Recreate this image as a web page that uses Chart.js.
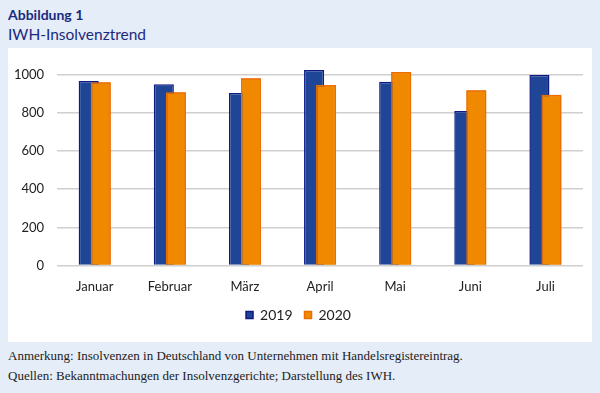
<!DOCTYPE html>
<html>
<head>
<meta charset="utf-8">
<script src="https://cdn.jsdelivr.net/npm/chart.js@4"></script>
<style>
  html, body { margin: 0; padding: 0; }
  body { width: 600px; height: 393px; background: #e5edf8; position: relative; overflow: hidden; font-family: Lato, sans-serif; }
  .kicker { position: absolute; left: 8px; top: 6px; font-size: 14px; font-weight: bold; color: #1b2a7d; }
  .title { position: absolute; left: 8px; top: 25px; font-size: 15.5px; color: #1b2a7d; }
  .panel { position: absolute; left: 8px; top: 48px; width: 584px; height: 294px; background: #fff; }
  .note { position: absolute; left: 8px; font-family: "Liberation Serif", serif; font-size: 13px; color: #222; }
</style>
</head>
<body>
<div class="kicker">Abbildung 1</div>
<div class="title">IWH-Insolvenztrend</div>
<div class="panel"><canvas id="chart" width="584" height="294"></canvas></div>
<div class="note" style="top:348px">Anmerkung: Insolvenzen in Deutschland von Unternehmen mit Handelsregistereintrag.</div>
<div class="note" style="top:368px">Quellen: Bekanntmachungen der Insolvenzgerichte; Darstellung des IWH.</div>
<script>
const months = ["Januar", "Februar", "März", "April", "Mai", "Juni", "Juli"];
const values2019 = [969, 951, 905, 1026, 964, 811, 1000];
const values2020 = [962, 910, 983, 948, 1016, 920, 896];
const yTicks = [0, 200, 400, 600, 800, 1000];

// orange bars sit on top of the blue ones
const orangeOnTop = {
  id: "orangeOnTop",
  afterDatasetsDraw(chart) {
    chart.getDatasetMeta(1).controller.draw();
  }
};

new Chart(document.getElementById("chart"), {
  type: "bar",
  data: {
    labels: months,
    datasets: [
      {
        label: "2019",
        data: values2019,
        backgroundColor: "#1f4597",
        borderColor: "#0c1a82",
        borderWidth: 1.5,
        borderSkipped: "bottom",
        categoryPercentage: 0.32,
        barPercentage: 1.67,
        clip: false
      },
      {
        label: "2020",
        data: values2020,
        backgroundColor: "#f08800",
        borderColor: "#ec6d00",
        borderWidth: 1.5,
        borderSkipped: "bottom",
        categoryPercentage: 0.32,
        barPercentage: 1.67,
        clip: false
      }
    ]
  },
  options: {
    responsive: false,
    animation: false,
    layout: { padding: { left: 6, right: 9, top: 27, bottom: 10 } },
    plugins: {
      legend: {
        position: "bottom",
        labels: {
          boxWidth: 7,
          boxHeight: 7,
          padding: 12,
          color: "#222",
          font: { family: "Lato", size: 14 }
        }
      },
      tooltip: { enabled: false }
    },
    scales: {
      x: {
        grid: { display: false, drawTicks: false },
        border: { display: false },
        ticks: { color: "#222", padding: 14, font: { family: "Lato", size: 13 } },
        afterFit(scale) {
          scale.height -= 13;
        }
      },
      y: {
        min: 0,
        max: 1000,
        afterBuildTicks(axis) {
          axis.ticks = yTicks.map(v => ({ value: v }));
        },
        afterFit(scale) {
          scale.width -= 13;
        },
        grid: { color: "#cfcfcf", lineWidth: 1.5, drawTicks: false },
        border: { display: false },
        ticks: {
          color: "#222",
          padding: 13,
          font: { family: "Lato", size: 13 },
          callback: v => String(v)
        }
      }
    }
  },
  plugins: [orangeOnTop]
});
</script>
</body>
</html>
